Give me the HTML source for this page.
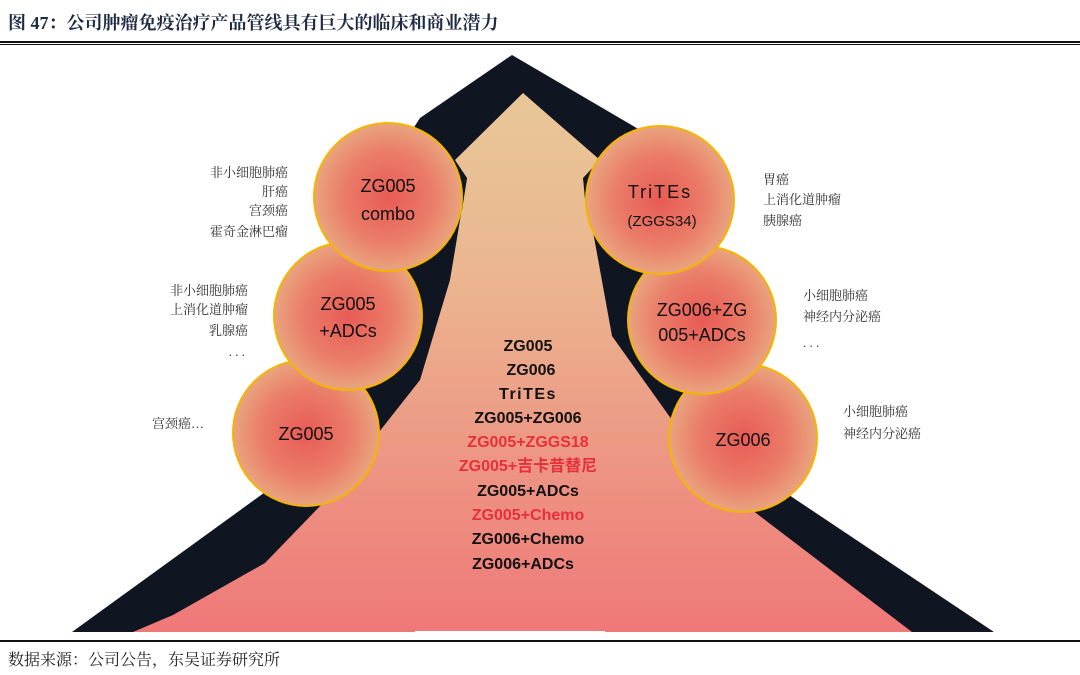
<!DOCTYPE html>
<html><head><meta charset="utf-8">
<style>
html,body{margin:0;padding:0;background:#fff;width:1080px;height:675px;overflow:hidden}
svg{display:block}
</style></head><body>
<svg width="1080" height="675" viewBox="0 0 1080 675" xmlns="http://www.w3.org/2000/svg">
<defs>
<linearGradient id="arrow" x1="0" y1="0" x2="0" y2="1">
<stop offset="0" stop-color="#e8c798"/>
<stop offset="0.35" stop-color="#ebb58f"/>
<stop offset="1" stop-color="#ef7878"/>
</linearGradient>
<radialGradient id="ball" cx="0.5" cy="0.5" r="0.5">
<stop offset="0" stop-color="#e85b55"/>
<stop offset="0.6" stop-color="#ea7c68"/>
<stop offset="1" stop-color="#e9a47f"/>
</radialGradient>
</defs>
<!-- title -->
<text x="8" y="29" font-family="'Liberation Serif','Noto Serif CJK SC',serif" font-size="18" font-weight="bold" fill="#1f2a44">图 47：公司肿瘤免疫治疗产品管线具有巨大的临床和商业潜力</text>
<rect x="0" y="41" width="1080" height="2" fill="#111"/>
<rect x="0" y="44" width="1080" height="1" fill="#111"/>

<!-- outer dark shape -->
<polygon fill="#101522" points="512,55 640,130 700,270 789,495 994,632 72,632 268,490 330,330 380,180 420,118"/>
<!-- inner arrow -->
<polygon fill="url(#arrow)" points="523,93 600,160 583,178 590,215 612,336 672,420 752,510 912,632 133,632 173,615 265,563 323,503 420,380 450,280 467,178 455,160"/>
<!-- tabs -->
<polygon fill="#101522" points="460,178 467,178 462,210 458,210"/>
<polygon fill="#101522" points="583,178 590,178 592,210 586,210"/>
<rect x="415" y="631" width="190" height="3" fill="#fff"/>

<!-- circles -->
<g stroke="#f5b400" stroke-width="2" fill="url(#ball)">
<circle cx="306" cy="433" r="73"/>
<circle cx="348" cy="316" r="74"/>
<circle cx="388" cy="197" r="74"/>
<circle cx="743" cy="438" r="74"/>
<circle cx="702" cy="320" r="74"/>
<circle cx="660" cy="200" r="74"/>
</g>
<g font-family="'Liberation Sans','Noto Sans CJK SC',sans-serif" font-size="18" fill="#111" text-anchor="middle">
<text x="388" y="192">ZG005</text>
<text x="388" y="220">combo</text>
<text x="348" y="310">ZG005</text>
<text x="348" y="337">+ADCs</text>
<text x="306" y="440">ZG005</text>
<text x="660" y="198" letter-spacing="2">TriTEs</text>
<text x="662" y="226" font-size="15">(ZGGS34)</text>
<text x="702" y="316">ZG006+ZG</text>
<text x="702" y="341">005+ADCs</text>
<text x="743" y="446">ZG006</text>
</g>

<!-- center list -->
<g font-family="'Liberation Sans','Noto Sans CJK SC',sans-serif" font-size="16" font-weight="bold" fill="#111" text-anchor="middle">
<text x="528" y="351">ZG005</text>
<text x="531" y="375">ZG006</text>
<text x="528" y="399" letter-spacing="1.5">TriTEs</text>
<text x="528" y="423">ZG005+ZG006</text>
<text x="528" y="447" fill="#e8303a">ZG005+ZGGS18</text>
<text x="528" y="471" fill="#e8303a">ZG005+吉卡昔替尼</text>
<text x="528" y="496">ZG005+ADCs</text>
<text x="528" y="520" fill="#e8303a">ZG005+Chemo</text>
<text x="528" y="544">ZG006+Chemo</text>
<text x="523" y="569">ZG006+ADCs</text>
</g>

<!-- side labels -->
<g font-family="'Liberation Serif','Noto Serif CJK SC',serif" font-size="13" fill="#333">
<g text-anchor="end">
<text x="288" y="177">非小细胞肺癌</text>
<text x="288" y="196">肝癌</text>
<text x="288" y="215">宫颈癌</text>
<text x="288" y="236">霍奇金淋巴瘤</text>
<text x="248" y="295">非小细胞肺癌</text>
<text x="248" y="314">上消化道肿瘤</text>
<text x="248" y="335">乳腺癌</text>
<text x="245" y="356">. . .</text>
</g>
<text x="152" y="428">宫颈癌…</text>
<text x="763" y="184">胃癌</text>
<text x="763" y="204">上消化道肿瘤</text>
<text x="763" y="225">胰腺癌</text>
<text x="803" y="300">小细胞肺癌</text>
<text x="803" y="321">神经内分泌癌</text>
<text x="803" y="347">. . .</text>
<text x="843" y="416">小细胞肺癌</text>
<text x="843" y="438">神经内分泌癌</text>
</g>

<rect x="0" y="640" width="1080" height="2" fill="#111"/>
<text x="8" y="665" font-family="'Liberation Serif','Noto Serif CJK SC',serif" font-size="16" fill="#222">数据来源：公司公告，东吴证券研究所</text>
</svg>
</body></html>
